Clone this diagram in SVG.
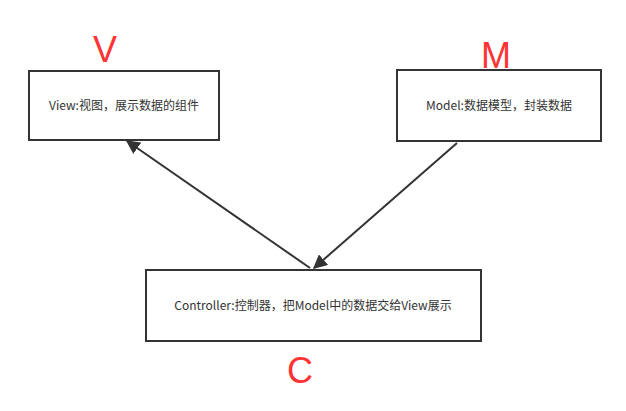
<svg xmlns="http://www.w3.org/2000/svg" width="626" height="411" viewBox="0 0 626 411">
<style>
.box{fill:#fff;stroke:#333;stroke-width:2}
.t{font-family:"Microsoft YaHei","Noto Sans CJK SC",sans-serif;font-size:12px;fill:#333;text-anchor:middle}
.l{font-family:"Liberation Sans","Noto Sans",sans-serif;font-size:36px;fill:#ff3333;text-anchor:middle}
.c{stroke:#333;stroke-width:2;fill:none}
</style>
<defs><marker id="a" viewBox="0 0 10 10" refX="9" refY="5" markerWidth="7" markerHeight="7" orient="auto" markerUnits="userSpaceOnUse"><path d="M0,0L10,5L0,10Z" fill="#333"/></marker>
<marker id="b" viewBox="0 0 10 10" refX="9" refY="5" markerWidth="14" markerHeight="14" orient="auto" markerUnits="userSpaceOnUse"><path d="M0,0L10,5L0,10Z" fill="#333"/></marker></defs>
<rect width="626" height="411" fill="#fff"/>
<g id="view"><rect class="box" x="29" y="71" width="190" height="69"/><text class="t" x="124" y="110">View:视图，展示数据的组件</text></g>
<g id="model"><rect class="box" x="397" y="70" width="204" height="71"/><text class="t" x="499" y="110">Model:数据模型，封装数据</text></g>
<g id="controller"><rect class="box" x="146" y="270" width="335" height="71"/><text class="t" x="313" y="310">Controller:控制器，把Model中的数据交给View展示</text></g>
<g id="labels"><text class="l" x="105" y="62">V</text><text class="l" x="496" y="68">M</text><text class="l" x="300" y="383">C</text></g>
<g id="connectors"><line class="c" x1="310" y1="268" x2="127" y2="141" marker-end="url(#b)"/><line class="c" x1="457" y1="143" x2="314" y2="268" marker-end="url(#b)"/></g>
</svg>
